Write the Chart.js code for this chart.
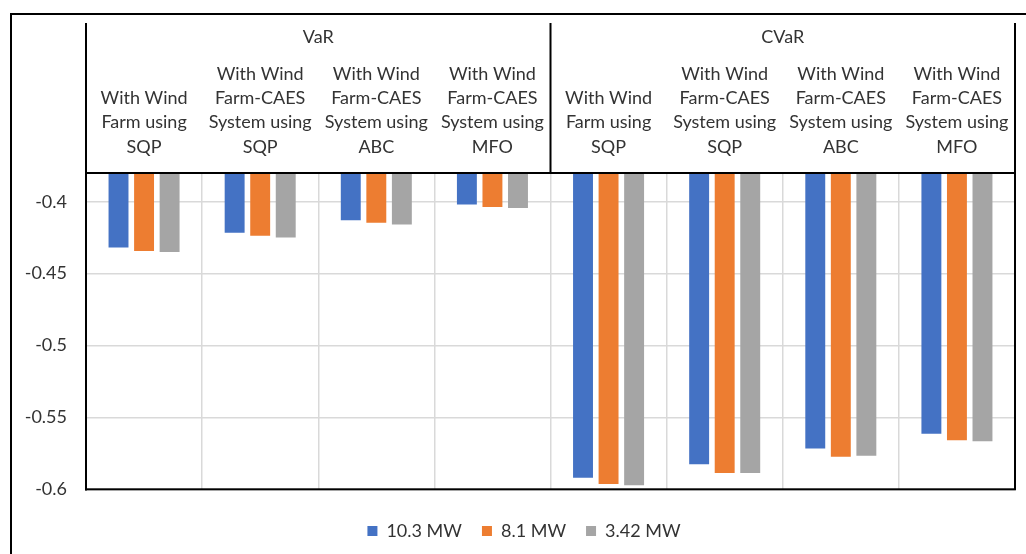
<!DOCTYPE html>
<html>
<head>
<meta charset="utf-8">
<script src="https://cdn.jsdelivr.net/npm/chart.js@4/dist/chart.umd.min.js"></script>
<style>
  html, body { margin: 0; padding: 0; background: #fff; overflow: hidden; }
  #wrap { position: relative; width: 1026px; height: 554px; }
  #frame { position: absolute; left: 10px; top: 13px; width: 1100px; height: 700px; border: 2px solid #000; pointer-events: none; box-sizing: border-box; }
</style>
</head>
<body>
<div id="wrap">
  <canvas id="c" width="1026" height="554"></canvas>
  <div id="frame"></div>
</div>
<script>
// ---- data ----
const groups = ['VaR', 'CVaR'];
const methods = [
  ['With Wind', 'Farm using', 'SQP'],
  ['With Wind', 'Farm-CAES', 'System using', 'SQP'],
  ['With Wind', 'Farm-CAES', 'System using', 'ABC'],
  ['With Wind', 'Farm-CAES', 'System using', 'MFO']
];
const categories = [...methods, ...methods];
const seriesNames = ['10.3 MW', '8.1 MW', '3.42 MW'];
const mw103 = [-0.4318, -0.4216, -0.4128, -0.4019, -0.5919, -0.5825, -0.5716, -0.5613];
const mw81  = [-0.4343, -0.4237, -0.4146, -0.4037, -0.5964, -0.5887, -0.5773, -0.5658];
const mw342 = [-0.4350, -0.4248, -0.4158, -0.4044, -0.5971, -0.5887, -0.5766, -0.5665];
const yTicks = [-0.6, -0.55, -0.5, -0.45, -0.4];
const yMin = -0.6, yMax = -0.38;
const colors = ['#4472C4', '#ED7D31', '#A5A5A5'];

const FONT = 'Lato, "Open Sans", "Liberation Sans", sans-serif';
const TXT = '#333333';

const borderPlugin = {
  id: 'borders',
  afterDraw(chart) {
    const {ctx, chartArea: a, scales} = chart;
    const x = scales.x, x2 = scales.x2;
    ctx.save();
    ctx.strokeStyle = '#000';
    ctx.lineWidth = 2;
    ctx.strokeRect(a.left, a.top, a.right - a.left, a.bottom - a.top);
    const mid = (x.getPixelForValue(3) + x.getPixelForValue(4)) / 2;
    ctx.beginPath();
    [a.left, mid, a.right].forEach(px => {
      ctx.moveTo(px, x2.top);
      ctx.lineTo(px, a.top);
    });
    ctx.stroke();
    ctx.restore();
  }
};

new Chart(document.getElementById('c'), {
  type: 'bar',
  data: {
    labels: categories,
    datasets: [mw103, mw81, mw342].map((d, i) => ({
      label: seriesNames[i],
      data: d,
      backgroundColor: colors[i],
      borderWidth: 0,
      base: yMax,
      categoryPercentage: 0.66,
      barPercentage: 0.78
    }))
  },
  options: {
    responsive: false,
    animation: false,
    layout: { padding: { left: 22, right: 0, top: 23, bottom: 4 } },
    scales: {
      x: {
        position: 'top',
        weight: 0,
        offset: true,
        grid: { display: true, offset: true, color: '#d9d9d9', lineWidth: 1.5, drawTicks: false },
        border: { display: true, color: '#000', width: 2 },
        ticks: { color: TXT, font: { family: FONT, size: 18, lineHeight: 1.35 }, padding: 14, maxRotation: 0, autoSkip: false },
        afterFit(s) { s.height = 111; }
      },
      x2: {
        type: 'category',
        labels: groups,
        position: 'top',
        weight: 1,
        offset: true,
        grid: { display: false, drawTicks: false },
        border: { display: false },
        ticks: { color: TXT, font: { family: FONT, size: 18, lineHeight: 1.2 }, padding: 14, maxRotation: 0 },
        afterFit(s) { s.height = 39; }
      },
      y: {
        min: yMin,
        max: yMax,
        grid: { color: '#d9d9d9', lineWidth: 1.5, drawTicks: false },
        border: { display: true, color: '#000', width: 2 },
        ticks: {
          includeBounds: false,
          color: TXT,
          font: { family: FONT, size: 18 },
          padding: 19,
          stepSize: 0.05,
          callback: (v) => {
            const hit = yTicks.find(t => Math.abs(t - v) < 1e-9);
            return hit === undefined ? '' : String(hit);
          }
        },
        afterBuildTicks(s) { s.ticks = yTicks.map(v => ({ value: v })); },
        afterFit(s) { s.width = 64; }
      },
      yR: {
        type: 'linear',
        position: 'right',
        display: true,
        grid: { display: false, drawTicks: false },
        border: { display: false },
        ticks: { display: false },
        afterFit(s) { s.width = 11; }
      }
    },
    plugins: {
      legend: {
        position: 'bottom',
        title: { display: true, text: '', font: { size: 1, lineHeight: 1 }, padding: { top: 11.7, bottom: 0 } },
        labels: { boxWidth: 10, boxHeight: 10, padding: 20, color: TXT, font: { family: FONT, size: 18 } }
      },
      tooltip: { enabled: false }
    }
  },
  plugins: [borderPlugin]
});
</script>
</body>
</html>
